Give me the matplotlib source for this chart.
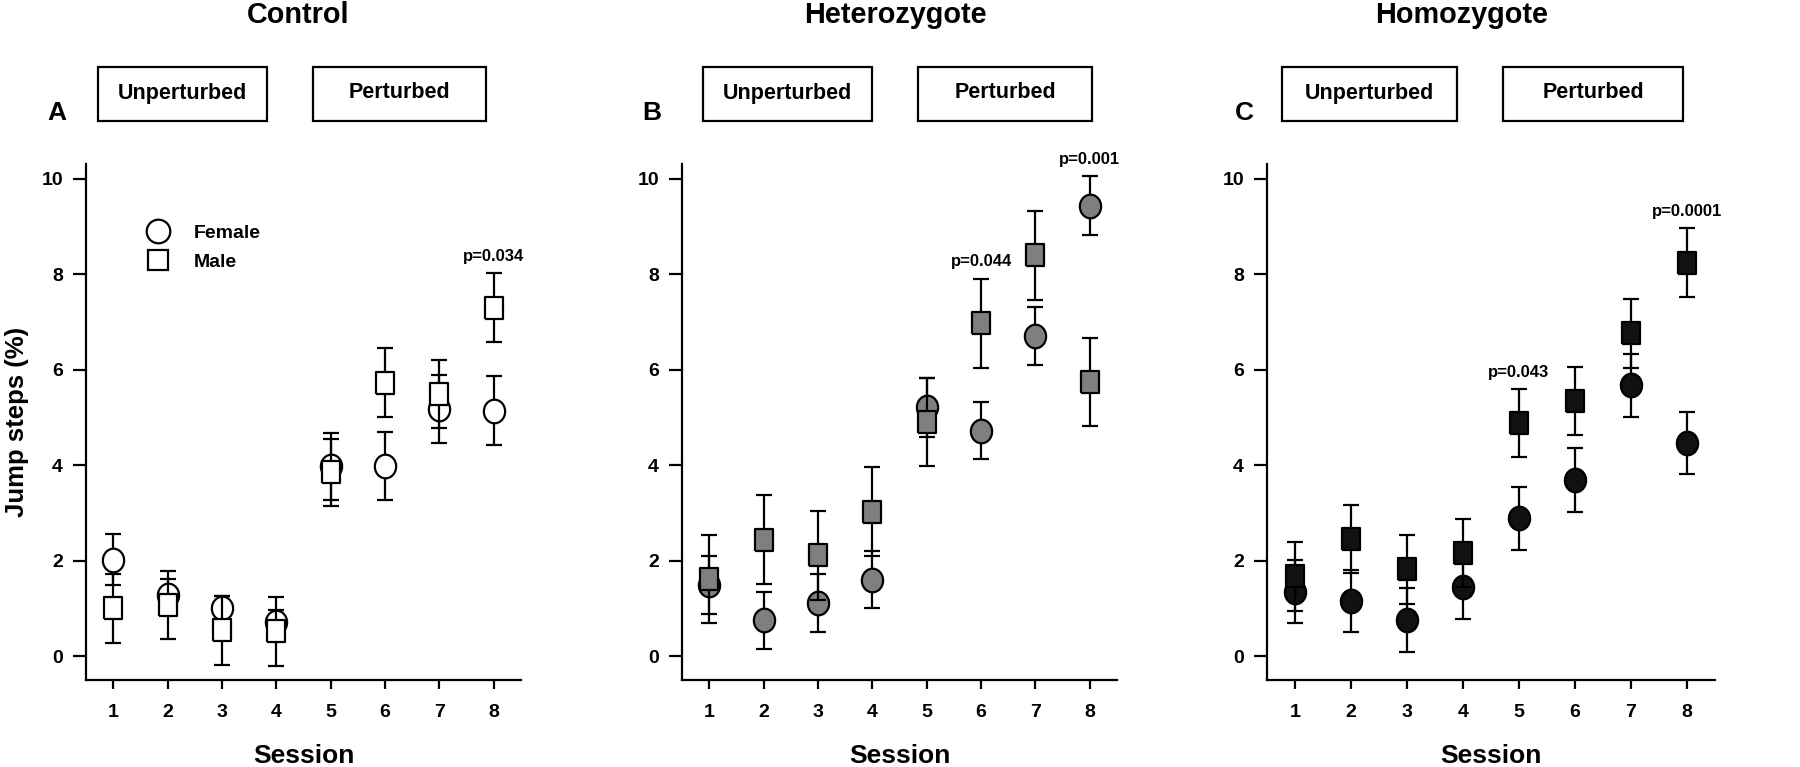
import matplotlib
matplotlib.use("Agg")
import matplotlib.pyplot as plt
import numpy as np
from matplotlib.patches import Rectangle
from matplotlib.lines import Line2D

plt.rcParams['font.family'] = ['Liberation Sans', 'DejaVu Sans']
plt.rcParams['font.weight'] = 'bold'

# ---------------- data ----------------
sessions = [1, 2, 3, 4, 5, 6, 7, 8]
panel_titles = ["Control", "Heterozygote", "Homozygote"]
panel_letters = ["A", "B", "C"]
phase_labels = ["Unperturbed", "Perturbed"]
legend_labels = ["Female", "Male"]

ctrl_female = [2.02, 1.28, 1.00, 0.71, 3.98, 3.98, 5.17, 5.14]
ctrl_female_err = [0.53, 0.34, 0.25, 0.25, 0.70, 0.71, 0.71, 0.72]
ctrl_male = [1.00, 1.07, 0.54, 0.52, 3.85, 5.73, 5.49, 7.30]
ctrl_male_err = [0.72, 0.72, 0.72, 0.72, 0.70, 0.72, 0.71, 0.72]

het_female = [1.49, 0.75, 1.11, 1.60, 5.21, 4.72, 6.71, 9.44]
het_female_err = [0.61, 0.60, 0.61, 0.60, 0.62, 0.60, 0.61, 0.61]
het_male = [1.61, 2.44, 2.11, 3.03, 4.91, 6.97, 8.40, 5.75]
het_male_err = [0.92, 0.93, 0.93, 0.93, 0.92, 0.93, 0.93, 0.92]

hom_female = [1.35, 1.16, 0.75, 1.44, 2.89, 3.69, 5.67, 4.46]
hom_female_err = [0.66, 0.65, 0.67, 0.66, 0.66, 0.66, 0.66, 0.65]
hom_male = [1.67, 2.45, 1.82, 2.16, 4.88, 5.35, 6.76, 8.24]
hom_male_err = [0.72, 0.71, 0.72, 0.71, 0.71, 0.71, 0.72, 0.72]

ctrl_p_sessions = [8]
ctrl_p_labels = ["p=0.034"]
het_p_sessions = [6, 8]
het_p_labels = ["p=0.044", "p=0.001"]
hom_p_sessions = [5, 8]
hom_p_labels = ["p=0.043", "p=0.0001"]

yticks = [0, 2, 4, 6, 8, 10]

# ---------------- style / layout ----------------
W, H = 1800, 767
fig = plt.figure(figsize=(18, 7.67), dpi=100)

def fx(px):
    return px / W

def fy(py):
    return 1 - py / H

fills = ["white", "#7f7f7f", "#111111"]
ax_px = [(86, 435), (682, 435), (1267, 448)]
ax_top, ax_bot = 164, 680
title_x = [298, 895, 1462]
letter_x = [57, 652, 1244]
boxes_px = [[(98, 267), (313, 486)], [(703, 872), (918, 1092)], [(1282, 1457), (1503, 1683)]]
box_y = (67, 121)

t = np.linspace(0, 2 * np.pi, 80)
ellipse_marker = np.column_stack([0.9 * np.cos(t), np.sin(t)])
rect_marker = np.array([[-0.85, -1], [0.85, -1], [0.85, 1], [-0.85, 1], [-0.85, -1]])

panels = [
    (ctrl_female, ctrl_female_err, ctrl_male, ctrl_male_err, ctrl_p_sessions, ctrl_p_labels),
    (het_female, het_female_err, het_male, het_male_err, het_p_sessions, het_p_labels),
    (hom_female, hom_female_err, hom_male, hom_male_err, hom_p_sessions, hom_p_labels),
]

for i, (fem, fem_e, mal, mal_e, psess, plabs) in enumerate(panels):
    left, width = ax_px[i]
    ax = fig.add_axes([fx(left), fy(ax_bot), fx(width), (ax_bot - ax_top) / H])
    fc = fills[i]

    ax.errorbar(sessions, fem, yerr=fem_e, fmt='none', ecolor='black',
                elinewidth=1.6, capsize=6, capthick=1.6, zorder=2)
    ax.plot(sessions, fem, ls='none', marker=ellipse_marker, ms=17,
            mfc=fc, mec='black', mew=1.6, zorder=3)
    ax.errorbar(sessions, mal, yerr=mal_e, fmt='none', ecolor='black',
                elinewidth=1.6, capsize=6, capthick=1.6, zorder=4)
    ax.plot(sessions, mal, ls='none', marker=rect_marker, ms=15.5,
            mfc=fc, mec='black', mew=1.6, zorder=5)

    for s, lab in zip(psess, plabs):
        k = sessions.index(s)
        top = max(fem[k] + fem_e[k], mal[k] + mal_e[k])
        ax.text(s, top + 0.36, lab, ha='center', va='center',
                fontsize=12, fontweight='bold', clip_on=False)

    ax.set_xlim(0.5, 8.5)
    ax.set_ylim(-0.5, 10.31)
    ax.set_xticks(sessions)
    ax.set_yticks(yticks)
    for sp in ['top', 'right']:
        ax.spines[sp].set_visible(False)
    for sp in ['left', 'bottom']:
        ax.spines[sp].set_linewidth(1.6)
    ax.tick_params(axis='y', length=9.5, width=1.6, pad=7, labelsize=14)
    ax.tick_params(axis='x', length=6.5, width=1.6, pad=11, labelsize=14)
    for lab in ax.get_xticklabels() + ax.get_yticklabels():
        lab.set_fontweight('bold')
    ax.set_xlabel("Session", fontsize=19, fontweight='bold', labelpad=16)
    if i == 0:
        ax.set_ylabel("Jump steps (%)", fontsize=18.5, fontweight='bold', labelpad=9)
        handles = [
            Line2D([], [], ls='none', marker='o', ms=17, mfc='white', mec='black', mew=1.6),
            Line2D([], [], ls='none', marker='s', ms=15, mfc='white', mec='black', mew=1.6),
        ]
        ax.legend(handles, legend_labels, loc='upper left', bbox_to_anchor=(0.143, 0.883),
                  frameon=False, borderaxespad=0, borderpad=0, handlelength=1.0,
                  handletextpad=1.35, labelspacing=0.6,
                  prop={'size': 14, 'weight': 'bold'})

    # titles, letters, phase boxes
    fig.text(fx(title_x[i]), fy(15), panel_titles[i], ha='center', va='center',
             fontsize=20.8, fontweight='bold')
    fig.text(fx(letter_x[i]), fy(113), panel_letters[i], ha='center', va='center',
             fontsize=19, fontweight='bold')
    for (x0, x1), lab in zip(boxes_px[i], phase_labels):
        fig.patches.append(Rectangle((fx(x0), fy(box_y[1])), fx(x1 - x0),
                                     (box_y[1] - box_y[0]) / H, transform=fig.transFigure,
                                     fill=False, edgecolor='black', linewidth=1.6))
        fig.text(fx((x0 + x1) / 2), fy(93), lab, ha='center', va='center',
                 fontsize=15.5, fontweight='bold')

fig.savefig("out.png", dpi=100)
